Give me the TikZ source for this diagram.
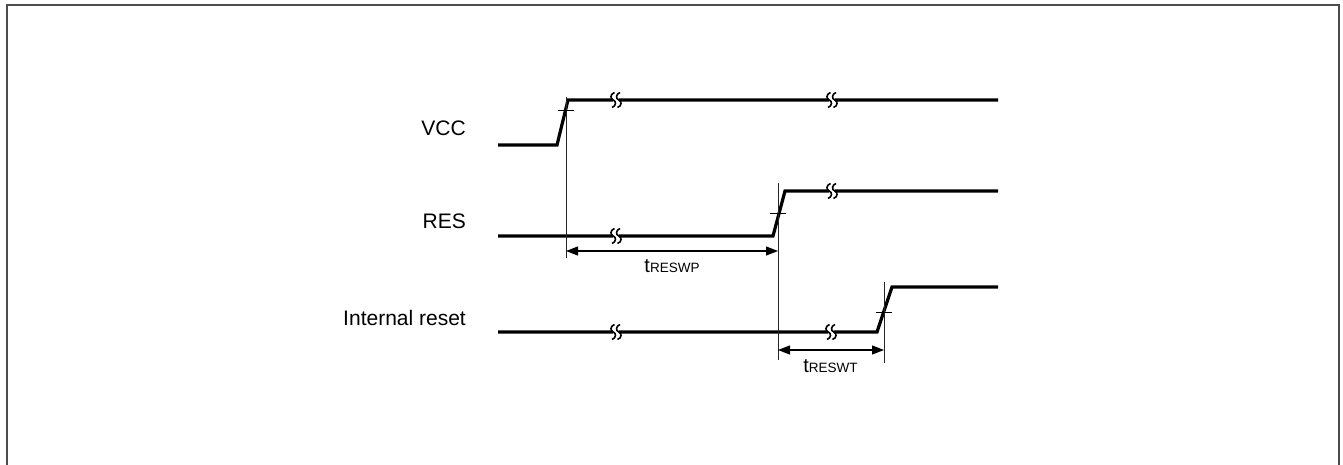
\documentclass[tikz,border=0pt]{standalone}
\usepackage{fontspec}
\setmainfont{Liberation Sans}
\usetikzlibrary{arrows.meta}
\tikzset{
  sig/.style={line width=3.2pt},
  guide/.style={line width=1pt, black!85},
  tickmark/.style={line width=1pt, black},
  dim/.style={line width=1.2pt, {Triangle[length=12pt,width=9pt]}-{Triangle[length=12pt,width=9pt]}},
  lab/.style={inner sep=0pt, font=\fontsize{21}{25}\selectfont},
  tlab/.style={inner sep=0pt, anchor=base},
  brk/.pic={
    \fill[white] (-2.8,-2.8) rectangle (2.8,2.8);
    \draw[line width=1.6pt] (-1.5,-7.5) .. controls (-6,-6) and (-6,-1) .. (-2.8,0) .. controls (0.4,1) and (0.4,6) .. (-4,7.5);
    \draw[line width=1.6pt] (4,-7.5) .. controls (-0.4,-6) and (-0.4,-1) .. (2.8,0) .. controls (6,1) and (6,6) .. (1.5,7.5);
  }
}
\newcommand{\tsub}[1]{{\fontsize{20}{24}\selectfont t}{\fontsize{13.5}{16}\selectfont #1}}
\begin{document}
\begin{tikzpicture}[x=1pt,y=-1pt]
\useasboundingbox (0,0) rectangle (1343,465);
\begin{scope}
\clip (0,0) rectangle (1343,465);
\draw[line width=2pt, black!70] (6.5,5) rectangle (1339,490);
\end{scope}

% labels
\node[lab, anchor=base east] (lvcc) at (466,135.7) {VCC};
\node[lab, anchor=base east] (lres) at (466,228.5) {RES};
\node[lab, anchor=base east] (lint) at (466,325) {Internal reset};

% coordinates
\coordinate (v0) at (498,145);
\coordinate (v1) at (557,145);
\coordinate (v2) at (568,100);
\coordinate (v3) at (998,100);

\coordinate (r0) at (498,236);
\coordinate (r1) at (773,236);
\coordinate (r2) at (785,191);
\coordinate (r3) at (998,191);

\coordinate (i0) at (498,332);
\coordinate (i1) at (877,332);
\coordinate (i2) at (892,287);
\coordinate (i3) at (998,287);

% signals
\draw[sig] (v0) -- (v1) -- (v2) -- (v3);
\draw[sig] (r0) -- (r1) -- (r2) -- (r3);
\draw[sig] (i0) -- (i1) -- (i2) -- (i3);

% breaks
\pic at (616,100) {brk};
\pic at (832,100) {brk};
\pic at (616,236) {brk};
\pic at (832,191) {brk};
\pic at (616,332) {brk};
\pic at (831,332) {brk};

% guide lines
\coordinate (g1t) at (566,97);
\coordinate (g1b) at (566,258);
\coordinate (g2t) at (778,183);
\coordinate (g2b) at (778,360);
\coordinate (g3t) at (884,282);
\coordinate (g3b) at (884,363);
\draw[guide] (g1t) -- (g1b);
\draw[guide] (g2t) -- (g2b);
\draw[guide] (g3t) -- (g3b);

% ticks on the rising edges
\coordinate (k1a) at (558,111); \coordinate (k1b) at (574,111);
\coordinate (k2a) at (770,213); \coordinate (k2b) at (786,213);
\coordinate (k3a) at (876,312); \coordinate (k3b) at (892,312);
\draw[tickmark] (k1a) -- (k1b);
\draw[tickmark] (k2a) -- (k2b);
\draw[tickmark] (k3a) -- (k3b);

% dimensions
\coordinate (a1l) at (566,251);
\coordinate (a1r) at (778,251);
\coordinate (a2l) at (778,350);
\coordinate (a2r) at (884,350);
\draw[dim] (a1l) -- (a1r);
\draw[dim] (a2l) -- (a2r);
\node[tlab] (twp) at (672,272.5) {\tsub{RESWP}};
\node[tlab] (twt) at (830.5,372) {\tsub{RESWT}};
\end{tikzpicture}
\end{document}
